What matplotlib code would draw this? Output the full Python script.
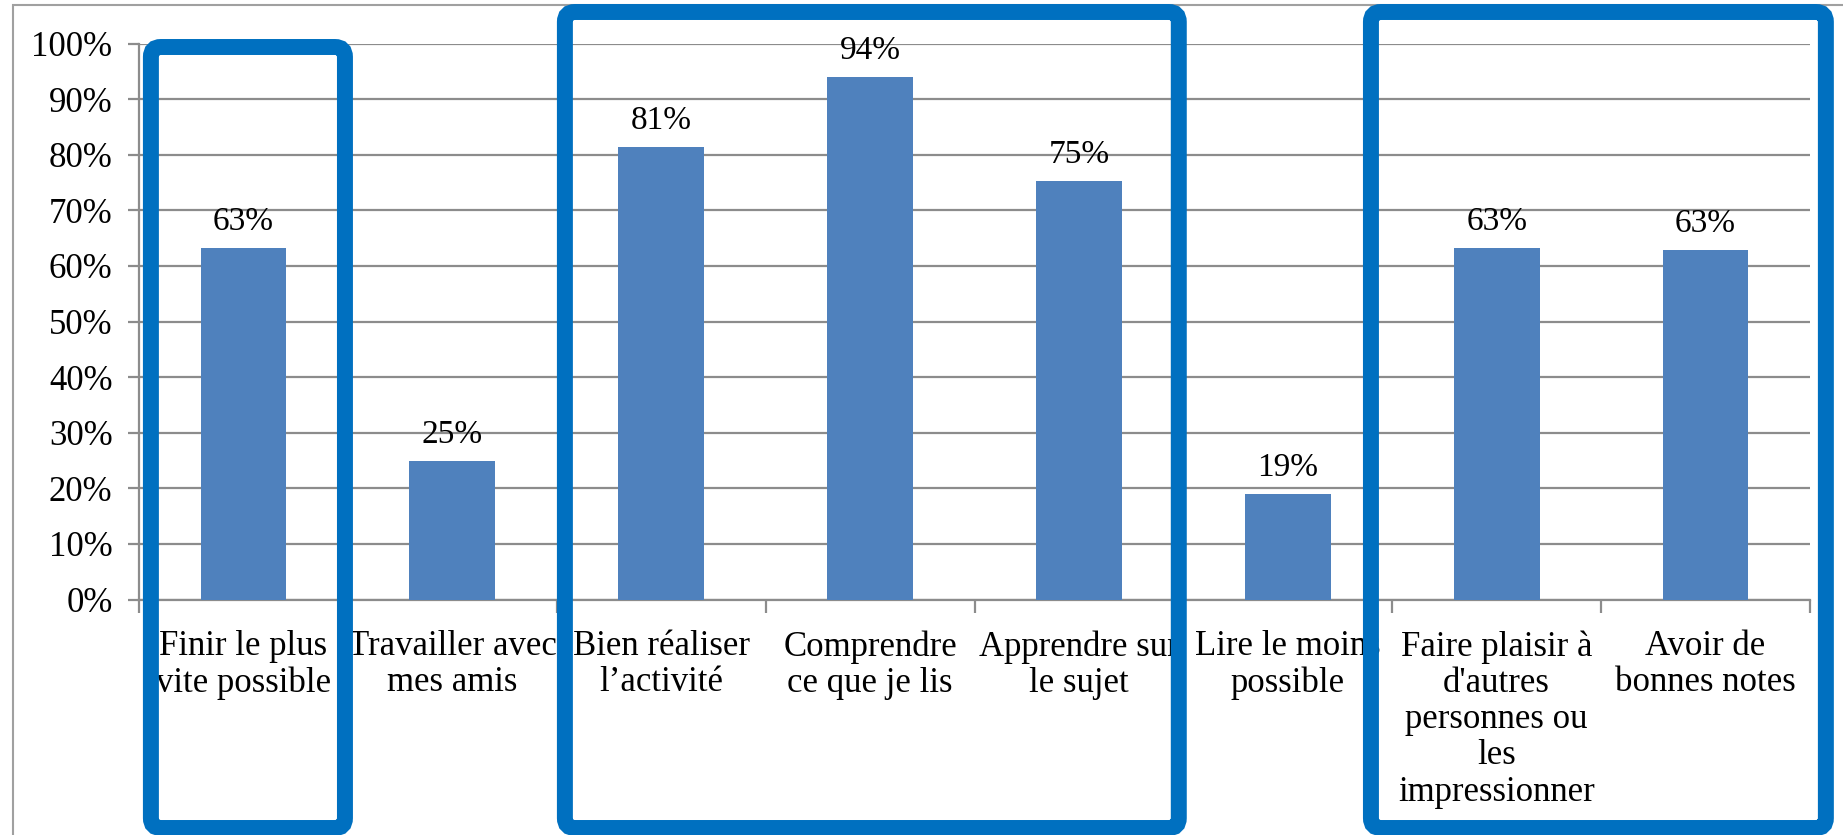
import matplotlib.pyplot as plt
import numpy as np
from matplotlib.patches import FancyBboxPatch, Rectangle
from matplotlib.transforms import IdentityTransform

plt.rcParams['font.family'] = ['Liberation Serif', 'DejaVu Serif']

# data
categories = ["Finir le plus\nvite possible", "Travailler avec\nmes amis",
              "Bien réaliser\nl\u2019activité", "Comprendre\nce que je lis",
              "Apprendre sur\nle sujet", "Lire le moins\npossible",
              "Faire plaisir à\nd'autres\npersonnes ou\nles\nimpressionner",
              "Avoir de\nbonnes notes"]
values = [0.632, 0.249, 0.813, 0.94, 0.753, 0.19, 0.632, 0.628]
# highlighted groups (first, last category index)
groups = [(0, 0), (2, 4), (6, 7)]

W, H = 1843, 835
fig = plt.figure(figsize=(W / 100, H / 100), dpi=100)
ax = fig.add_axes([139 / W, 1 - 599.5 / H, 1671 / W, 556 / H])

x = np.arange(len(values))
ax.bar(x, values, width=0.41, color='#4F81BD', zorder=3)
for xi, v in zip(x, values):
    ax.text(xi, v + 0.02, f"{v * 100:.0f}%", ha='center', va='bottom', fontsize=24)

ax.set_xlim(-0.5, len(values) - 0.5)
ax.set_ylim(0, 1)
yt = np.arange(0, 1.01, 0.1)
ax.set_yticks(yt)
ax.set_yticklabels([f"{int(round(t * 100))}%" for t in yt], fontsize=25)
ax.yaxis.grid(True, color='#8c8c8c', linewidth=1.6, zorder=0)
ax.set_axisbelow(True)

ax.set_xticks(x)
ax.set_xticklabels(categories, fontsize=25, linespacing=1.13, va='top')
ax.tick_params(axis='x', which='major', length=0, pad=22)
ax.set_xticks(np.arange(-0.5, len(values)), minor=True)
ax.tick_params(axis='x', which='minor', length=9, width=1.6, color='#8c8c8c', direction='out')
ax.tick_params(axis='y', length=8, width=1.6, color='#8c8c8c', pad=11)

for s in ['top', 'right']:
    ax.spines[s].set_visible(False)
for s in ['left', 'bottom']:
    ax.spines[s].set_color('#8c8c8c')
    ax.spines[s].set_linewidth(1.6)

# outer chart border
fig.patches.append(Rectangle((13, -20), W + 20, H + 20 - 5, transform=IdentityTransform(),
                             fill=False, edgecolor='#a0a0a0', linewidth=1.5))

# blue highlight boxes (drawn in pixel space)
fig.canvas.draw()
tops = [47, 12, 12]
pads = [(0.057, 0.014), (0.039, 0.022), (-0.102, -0.076)]
for (g0, g1), top, (pl, pr) in zip(groups, tops, pads):
    x0 = ax.transData.transform((g0 - 0.5 + pl, 0))[0]
    x1 = ax.transData.transform((g1 + 0.5 - pr, 0))[0]
    y_top = H - top
    y_bot = H - 828
    box = FancyBboxPatch((x0, y_bot), x1 - x0, y_top - y_bot,
                         boxstyle="round,pad=0,rounding_size=10",
                         transform=IdentityTransform(), fill=False,
                         edgecolor='#0070C0', linewidth=11.5, zorder=10)
    fig.patches.append(box)

fig.savefig('out.png', dpi=100)
